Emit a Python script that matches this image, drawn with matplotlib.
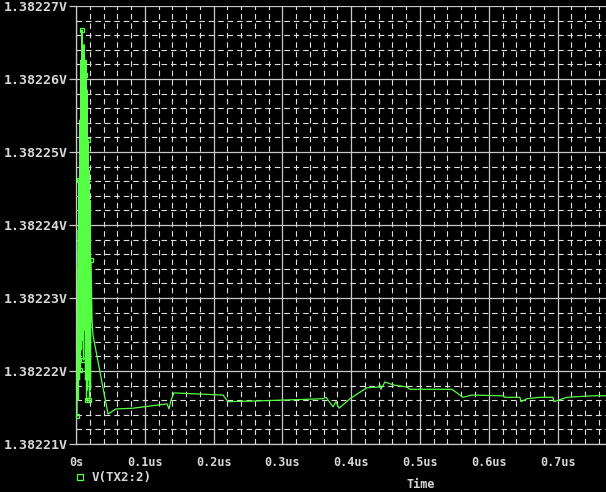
import matplotlib
matplotlib.use("Agg")
import matplotlib.pyplot as plt
from matplotlib.ticker import MultipleLocator, FuncFormatter

# ---- data (time in ns, voltage in V) ----
time_ns = [1.45, 2.9, 3.6, 4.4, 5.1, 5.8, 6.5, 7.3, 8.0, 8.7, 9.4, 10.2, 10.9, 11.6,
           12.4, 13.1, 13.8, 14.5, 15.3, 16.0, 16.7, 17.4, 18.2, 18.9, 19.6, 20.3,
           21.1, 21.8, 23.3, 24.7, 46.5, 58.1, 82.8, 132.3, 135.2, 138.1, 142.4,
           213.7, 220.9, 263.1, 359.0, 363.4, 373.5, 377.9, 382.3, 398.3, 412.8,
           423.0, 439.0, 441.9, 443.3, 449.1, 460.8, 481.1, 485.5, 546.5, 562.5,
           575.6, 620.6, 623.5, 645.3, 646.8, 655.5, 674.4, 693.3, 694.8, 713.7,
           751.5, 770.4]
voltage = [1.3822138, 1.3822393, 1.3822160, 1.3822462, 1.3822188, 1.3822544,
           1.3822201, 1.3822626, 1.3822229, 1.3822667, 1.3822242, 1.3822585,
           1.3822215, 1.3822647, 1.3822256, 1.3822605, 1.3822188, 1.3822626,
           1.3822160, 1.3822585, 1.3822174, 1.3822516, 1.3822188, 1.3822475,
           1.3822160, 1.3822434, 1.3822174, 1.3822352, 1.3822270, 1.3822249,
           1.3822141, 1.3822148, 1.3822149, 1.3822155, 1.3822148, 1.3822160,
           1.3822170, 1.3822167, 1.3822158, 1.3822159, 1.3822162, 1.3822164,
           1.3822151, 1.3822158, 1.3822149, 1.3822162, 1.3822171, 1.3822177,
           1.3822178, 1.3822181, 1.3822175, 1.3822185, 1.3822181, 1.3822178,
           1.3822175, 1.3822175, 1.3822164, 1.3822167, 1.3822166, 1.3822164,
           1.3822164, 1.3822158, 1.3822162, 1.3822164, 1.3822164, 1.3822158,
           1.3822164, 1.3822166, 1.3822166]
y_ticks = [1.38221, 1.38222, 1.38223, 1.38224, 1.38225, 1.38226, 1.38227]
x_ticks_ns = [0, 100, 200, 300, 400, 500, 600, 700]
x_tick_labels = ["0s", "0.1us", "0.2us", "0.3us", "0.4us", "0.5us", "0.6us", "0.7us"]
series_name = "V(TX2:2)"

W, H = 606, 492
fig = plt.figure(figsize=(W / 100, H / 100), dpi=100, facecolor="black")
ax = fig.add_axes([76 / W, (H - 444) / H, (W - 76) / W, (444 - 6) / H])
ax.set_facecolor("black")

green = "#55ff44"
ax.plot(time_ns, voltage, color=green, lw=0.9, zorder=3)
ax.plot(time_ns[:29:3], voltage[:29:3], ls="none", marker="s", ms=3.5,
        mfc="none", mec=green, mew=0.9, zorder=4)

ax.set_xlim(0, 770.4)
ax.set_ylim(1.38221, 1.38227)
ax.set_xticks(x_ticks_ns)
ax.set_xticklabels(x_tick_labels)
ax.set_yticks(y_ticks)
ax.yaxis.set_major_formatter(FuncFormatter(lambda v, p: f"{v:.5f}V"))
ax.xaxis.set_minor_locator(MultipleLocator(20))
ax.yaxis.set_minor_locator(MultipleLocator(0.000002))

ax.grid(which="major", color="#c8c8c8", lw=0.9, ls="-")
ax.grid(which="minor", color="#e0e0e0", lw=0.8, ls=(0, (5, 3.5)))
ax.set_axisbelow(True)

for s in ["top", "right"]:
    ax.spines[s].set_visible(False)
for s in ["left", "bottom"]:
    ax.spines[s].set_color("#c8c8c8")
    ax.spines[s].set_linewidth(0.9)

mono = "DejaVu Sans Mono"
ax.tick_params(axis="y", which="major", colors="#c8c8c8", length=5, width=0.9,
               pad=1, labelsize=9.5, labelcolor="#d8d8d8")
ax.tick_params(axis="x", which="major", length=0, pad=9, labelsize=8.5,
               labelcolor="#d8d8d8")
ax.tick_params(which="minor", length=0)
for lab in ax.get_yticklabels() + ax.get_xticklabels():
    lab.set_fontfamily(mono)
    lab.set_fontweight("bold")

# legend-like marker, series name and axis title
ax_l = fig.add_axes([0, 0, 1, 1], facecolor="none")
ax_l.set_xlim(0, W)
ax_l.set_ylim(H, 0)
ax_l.axis("off")
ax_l.plot([80], [477], marker="s", ms=4, mfc="none", mec=green, mew=0.9)
ax_l.text(92, 477, series_name, color="#d8d8d8", fontsize=9, family=mono,
          fontweight="bold", va="center", ha="left")
ax_l.text(421, 491.5, "Time", color="#d8d8d8", fontsize=8.5, family=mono,
          fontweight="bold", va="bottom", ha="center")

fig.savefig("out.png", dpi=100, facecolor="black")
